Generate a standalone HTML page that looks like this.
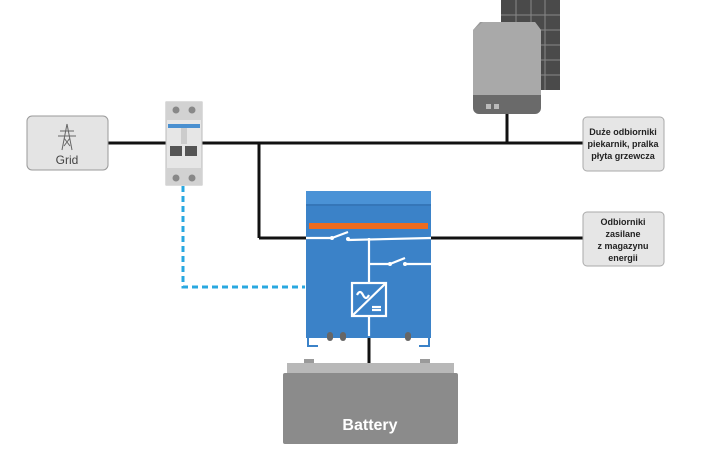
<!DOCTYPE html>
<html><head><meta charset="utf-8"><style>
html,body{margin:0;padding:0;background:#fff;width:720px;height:450px;overflow:hidden}
</style></head><body>
<svg width="720" height="450" viewBox="0 0 720 450" xmlns="http://www.w3.org/2000/svg" font-family="Liberation Sans, sans-serif">
<!-- wires -->
<g stroke="#111" stroke-width="3" fill="none">
<line x1="108" y1="143" x2="584" y2="143"/>
<line x1="259" y1="143" x2="259" y2="238"/>
<line x1="259" y1="238" x2="584" y2="238"/>
<line x1="507" y1="108" x2="507" y2="143"/>
<line x1="369" y1="336" x2="369" y2="366"/>
</g>
<!-- dashed -->
<polyline points="183,186 183,287 305,287" fill="none" stroke="#29a8e0" stroke-width="3" stroke-dasharray="6,4"/>
<!-- Grid box -->
<rect x="27" y="116" width="81" height="54" rx="5" fill="#e4e4e4" stroke="#9a9a9a"/>
<g stroke="#666" stroke-width="1" fill="none">
<path d="M67 124 L62 150 M67 124 L72 150 M60 131 H74 M58 136 H76 M64 138 L70 146 M70 138 L64 146"/>
</g>
<text x="67" y="164" font-size="12" fill="#444" text-anchor="middle">Grid</text>
<!-- meter -->
<rect x="166" y="102" width="36" height="83" fill="#e6e6e6" stroke="#bbb"/>
<rect x="166" y="102" width="36" height="18" fill="#d2d2d2"/>
<rect x="166" y="168" width="36" height="17" fill="#d2d2d2"/>
<circle cx="176" cy="110" r="3.5" fill="#888"/><circle cx="192" cy="110" r="3.5" fill="#888"/>
<circle cx="176" cy="178" r="3.5" fill="#888"/><circle cx="192" cy="178" r="3.5" fill="#888"/>
<rect x="168" y="124" width="32" height="4" fill="#4a90d0"/>
<rect x="170" y="146" width="12" height="10" fill="#555"/><rect x="185" y="146" width="12" height="10" fill="#555"/>
<rect x="181" y="128" width="6" height="16" fill="#ccc"/>
<!-- solar -->
<rect x="501" y="0" width="59" height="90" fill="#4a4a4a"/>
<g stroke="#888" stroke-width="1">
<line x1="516" y1="0" x2="516" y2="90"/><line x1="531" y1="0" x2="531" y2="90"/><line x1="545" y1="0" x2="545" y2="90"/>
<line x1="501" y1="15" x2="560" y2="15"/><line x1="501" y1="30" x2="560" y2="30"/><line x1="501" y1="45" x2="560" y2="45"/><line x1="501" y1="60" x2="560" y2="60"/><line x1="501" y1="75" x2="560" y2="75"/>
</g>
<path d="M480 22 H535 L541 30 V100 Q541 114 527 114 H486 Q473 114 473 100 V30 Z" fill="#9a9a9a"/>
<path d="M483 22 H535 L541 30 V95 H473 V30 Z" fill="#a9a9a9"/>
<rect x="473" y="95" width="68" height="19" rx="6" fill="#6a6a6a"/>
<rect x="473" y="95" width="68" height="8" fill="#6a6a6a"/>
<rect x="486" y="104" width="5" height="5" fill="#bbb"/><rect x="494" y="104" width="5" height="5" fill="#bbb"/>
<!-- load boxes -->
<rect x="583" y="117" width="81" height="54" rx="4" fill="#e6e6e6" stroke="#aaa"/>
<text font-size="9" font-weight="bold" fill="#222" text-anchor="middle"><tspan x="623" y="135">Duże odbiorniki</tspan><tspan x="623" y="147">piekarnik, pralka</tspan><tspan x="623" y="159">płyta grzewcza</tspan></text>
<rect x="583" y="212" width="81" height="54" rx="4" fill="#e6e6e6" stroke="#aaa"/>
<text font-size="9" font-weight="bold" fill="#222" text-anchor="middle"><tspan x="623" y="225">Odbiorniki</tspan><tspan x="623" y="237">zasilane</tspan><tspan x="623" y="249">z magazynu</tspan><tspan x="623" y="261">energii</tspan></text>
<!-- inverter -->
<rect x="306" y="191" width="125" height="147" fill="#3b82c8"/>
<rect x="306" y="191" width="125" height="13" fill="#4a92d6"/>
<rect x="306" y="204" width="125" height="2" fill="#3576b8"/>
<rect x="309" y="223" width="119" height="6" fill="#ee6b1e"/>
<g stroke="#fff" stroke-width="2.2" fill="none">
<line x1="306" y1="238" x2="332" y2="238"/>
<line x1="332" y1="238" x2="348" y2="232"/>
<line x1="348" y1="240" x2="431" y2="238"/>
<line x1="369" y1="238" x2="369" y2="336"/>
<line x1="369" y1="264" x2="390" y2="264"/>
<line x1="390" y1="264" x2="405" y2="258"/>
<line x1="405" y1="264" x2="431" y2="264"/>
<rect x="352" y="283" width="34" height="33" fill="#3b82c8"/>
<line x1="352" y1="316" x2="386" y2="283"/>
<path d="M357 295 q3 -6 6 0 t6 0"/>
<line x1="372" y1="307" x2="381" y2="307"/><line x1="372" y1="310" x2="381" y2="310"/>
</g>
<circle cx="332" cy="238" r="2" fill="#fff"/><circle cx="348" cy="239" r="2" fill="#fff"/>
<circle cx="390" cy="264" r="2" fill="#fff"/><circle cx="405" cy="264" r="2" fill="#fff"/>
<g fill="#666"><rect x="327" y="332" width="6" height="9" rx="3"/><rect x="340" y="332" width="6" height="9" rx="3"/><rect x="405" y="332" width="6" height="9" rx="3"/></g>
<g stroke="#3b82c8" stroke-width="2" fill="none">
<path d="M308 338 V346 H318"/><path d="M429 338 V346 H419"/>
</g>
<!-- battery -->
<rect x="304" y="359" width="10" height="6" fill="#9a9a9a"/><rect x="420" y="359" width="10" height="6" fill="#9a9a9a"/>
<rect x="287" y="363" width="167" height="10" fill="#b8b8b8"/>
<rect x="283" y="373" width="175" height="71" rx="2" fill="#8b8b8b"/>
<text x="370" y="430" font-size="16" font-weight="bold" fill="#fff" text-anchor="middle">Battery</text>
</svg>
</body></html>
